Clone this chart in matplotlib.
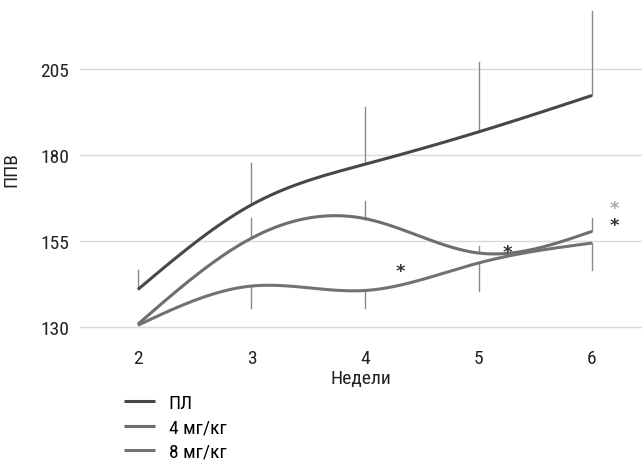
import numpy as np
import matplotlib
matplotlib.use("Agg")
import matplotlib.pyplot as plt
from matplotlib import font_manager

names = {f.name for f in font_manager.fontManager.ttflist}
fam = [n for n in ["Liberation Sans Narrow", "Roboto Condensed", "Roboto", "DejaVu Sans"] if n in names]
plt.rcParams['font.family'] = fam

weeks = [2, 3, 4, 5, 6]
pl = [140.9, 165.5, 177.3, 186.7, 197.3]
mg4 = [130.8, 155.8, 161.5, 151.5, 157.8]
mg8 = [130.5, 141.9, 140.6, 148.6, 154.4]
pl_err_up = [5.8, 12.3, 16.6, 20.3, 24.6]
mg4_err_up = [0, 5.8, 5.1, 1.9, 4.0]
mg8_err_dn = [0, 6.3, 5.0, 8.2, 7.7]
labels = ["ПЛ", "4 мг/кг", "8 мг/кг"]
colors = ["#474747", "#6e6e6e", "#727272"]
star_x = [4.31, 5.25, 6.2, 6.2]
star_y = [146.2, 151.8, 159.7, 164.7]
star_c = ["#333333", "#333333", "#333333", "#aaaaaa"]
yticks = [130, 155, 180, 205]


def natural_spline(x, y, n=200):
    x = np.asarray(x, float); y = np.asarray(y, float)
    k = len(x); h = np.diff(x)
    A = np.zeros((k, k)); b = np.zeros(k)
    A[0, 0] = A[-1, -1] = 1
    for i in range(1, k - 1):
        A[i, i - 1] = h[i - 1]; A[i, i] = 2 * (h[i - 1] + h[i]); A[i, i + 1] = h[i]
        b[i] = 3 * ((y[i + 1] - y[i]) / h[i] - (y[i] - y[i - 1]) / h[i - 1])
    c = np.linalg.solve(A, b)
    xs = np.linspace(x[0], x[-1], n)
    ys = np.empty_like(xs)
    for j, xv in enumerate(xs):
        i = min(np.searchsorted(x, xv, side='right') - 1, k - 2)
        d = xv - x[i]
        bi = (y[i + 1] - y[i]) / h[i] - h[i] * (2 * c[i] + c[i + 1]) / 3
        di = (c[i + 1] - c[i]) / (3 * h[i])
        ys[j] = y[i] + bi * d + c[i] * d ** 2 + di * d ** 3
    return xs, ys


fig = plt.figure(figsize=(6.42, 4.64), dpi=100)
ax = fig.add_axes([80 / 642, 1 - 340 / 464, 562 / 642, 340 / 464])

# error bars
for i, w in enumerate(weeks):
    if pl_err_up[i] > 0:
        ax.plot([w, w], [pl[i], pl[i] + pl_err_up[i]], color="#8a8a8a", lw=1, zorder=2)
    if mg4_err_up[i] > 0:
        ax.plot([w, w], [mg4[i], mg4[i] + mg4_err_up[i]], color="#8a8a8a", lw=1, zorder=2)
    if mg8_err_dn[i] > 0:
        ax.plot([w, w], [mg8[i], mg8[i] - mg8_err_dn[i]], color="#8a8a8a", lw=1, zorder=2)

for data, lab, col in zip([pl, mg4, mg8], labels, colors):
    xs, ys = natural_spline(weeks, data)
    ax.plot(xs, ys, color=col, lw=2.2, label=lab, zorder=3, solid_capstyle='butt')

for sx, sy, sc in zip(star_x, star_y, star_c):
    ax.text(sx, sy, "*", color=sc, fontsize=13, ha='center', va='center',
            family='DejaVu Sans', fontweight='bold', zorder=4)

ax.set_xlim(1.49, 6.44)
ax.set_ylim(126.5, 225.35)
ax.set_yticks(yticks)
ax.set_xticks(weeks)
ax.yaxis.grid(True, color="#d9d9d9", lw=1)
ax.set_axisbelow(True)
for s in ax.spines.values():
    s.set_visible(False)
ax.tick_params(axis='both', length=0, labelsize=14, colors="#222222")
ax.tick_params(axis='y', pad=8)
ax.tick_params(axis='x', pad=7)
ax.set_xlabel("Недели", fontsize=14, color="#222222", labelpad=2)
ax.set_ylabel("ППВ", fontsize=14, color="#222222", labelpad=14)

handles, labs = ax.get_legend_handles_labels()
leg = fig.legend(handles, labs, loc='upper left', bbox_to_anchor=(124 / 642, 1 - 395 / 464),
                 frameon=False, fontsize=14, handlelength=1.6, labelspacing=0.33,
                 handletextpad=0.7, borderaxespad=0, borderpad=0)

fig.savefig("out.png", dpi=100)
